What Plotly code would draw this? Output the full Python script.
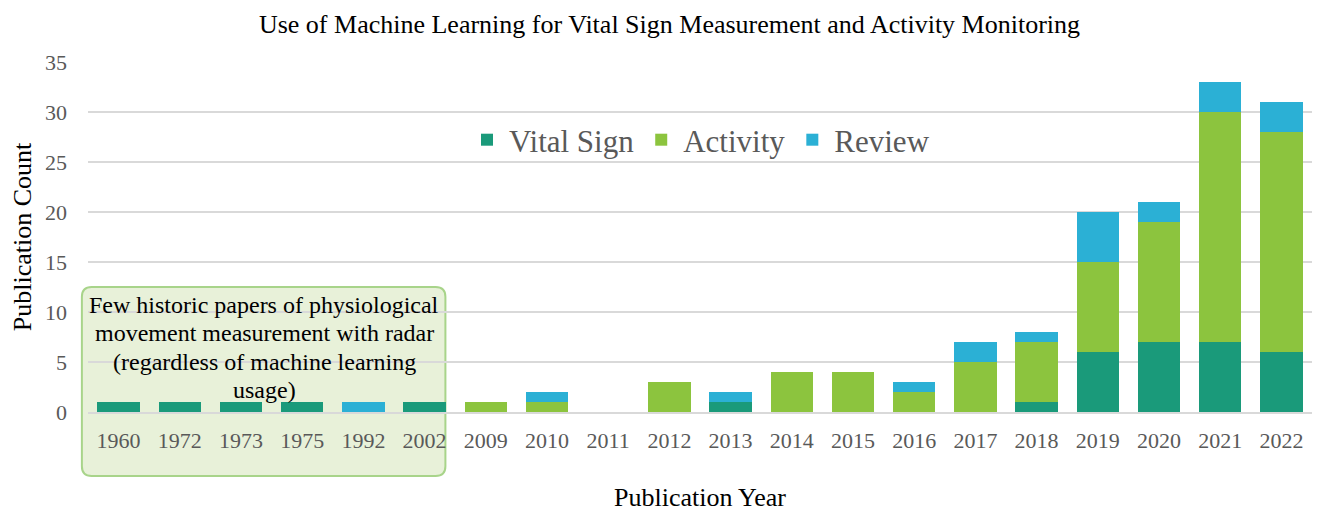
import plotly.graph_objects as go

# Données
years = ['1960', '1972', '1973', '1975', '1992', '2002', '2009', '2010', '2011', '2012',
         '2013', '2014', '2015', '2016', '2017', '2018', '2019', '2020', '2021', '2022']
vital_sign = [1, 1, 1, 1, 0, 1, 0, 0, 0, 0, 1, 0, 0, 0, 0, 1, 6, 7, 7, 6]
activity = [0, 0, 0, 0, 0, 0, 1, 1, 0, 3, 0, 4, 4, 2, 5, 6, 9, 12, 23, 22]
review = [0, 0, 0, 0, 1, 0, 0, 1, 0, 0, 1, 0, 0, 1, 2, 1, 5, 2, 3, 3]

note_lines = ["Few historic papers of physiological",
              "movement measurement with radar",
              "(regardless of machine learning",
              "usage)"]

serif = "Liberation Serif, Times New Roman, serif"

fig = go.Figure()
for name, vals, col in [('Vital Sign', vital_sign, '#1a9a7a'),
                        ('Activity', activity, '#8cc43e'),
                        ('Review', review, '#2bb0d5')]:
    fig.add_trace(go.Bar(x=years, y=vals, name=name, marker_color=col,
                         marker_line_width=0))

# encadré vert (coordonnées papier)
x0, x1 = -0.005, 0.292
y0, y1 = -0.183, 0.357
r = 0.008
ry = r * 1224 / 350
path = (f"M {x0 + r},{y0} L {x1 - r},{y0} Q {x1},{y0} {x1},{y0 + ry} "
        f"L {x1},{y1 - ry} Q {x1},{y1} {x1 - r},{y1} L {x0 + r},{y1} "
        f"Q {x0},{y1} {x0},{y1 - ry} L {x0},{y0 + ry} Q {x0},{y0} {x0 + r},{y0} Z")
fig.add_shape(type="path", path=path, xref="paper", yref="paper", layer="below",
              fillcolor="#e8f1d9", line=dict(color="#a8d48a", width=2))

# texte de l'encadré, une ligne par annotation
for i, line in enumerate(note_lines):
    fig.add_annotation(text=line, xref="paper", yref="paper", x=0.144,
                       y=0.306 - i * 0.081, xanchor="center", yanchor="middle",
                       showarrow=False,
                       font=dict(family=serif, size=24, color="black"))

fig.update_layout(
    barmode='stack',
    bargap=0.31,
    width=1323, height=512,
    margin=dict(l=80, r=19, t=54, b=108),
    paper_bgcolor='white',
    plot_bgcolor='rgba(0,0,0,0)',
    font=dict(family=serif, color='#595959'),
    title=dict(text="Use of Machine Learning for Vital Sign Measurement and Activity Monitoring",
               x=0.5, xanchor='center', y=0.968, yanchor='middle',
               font=dict(family=serif, size=26, color='black')),
    legend=dict(orientation='h', x=0.5, xanchor='center', y=0.777, yanchor='middle',
                font=dict(family=serif, size=31, color='#595959'),
                bgcolor='rgba(0,0,0,0)', itemwidth=34, traceorder='normal'),
    xaxis=dict(type='category', showgrid=False, ticks='outside', ticklen=8,
               tickcolor='rgba(0,0,0,0)', tickfont=dict(size=22, color='#595959'),
               title=dict(text='Publication Year', font=dict(size=26, color='black'),
                          standoff=35),
               showline=True, linecolor='#d9d9d9', linewidth=2),
    yaxis=dict(range=[0, 35], dtick=5, showgrid=True, gridcolor='#d9d9d9', gridwidth=2,
               zeroline=False, tickfont=dict(size=22, color='#595959'),
               ticklabelstandoff=20,
               title=dict(text='Publication Count', font=dict(size=26, color='black'),
                          standoff=8)),
)

fig.write_html("out.html")
